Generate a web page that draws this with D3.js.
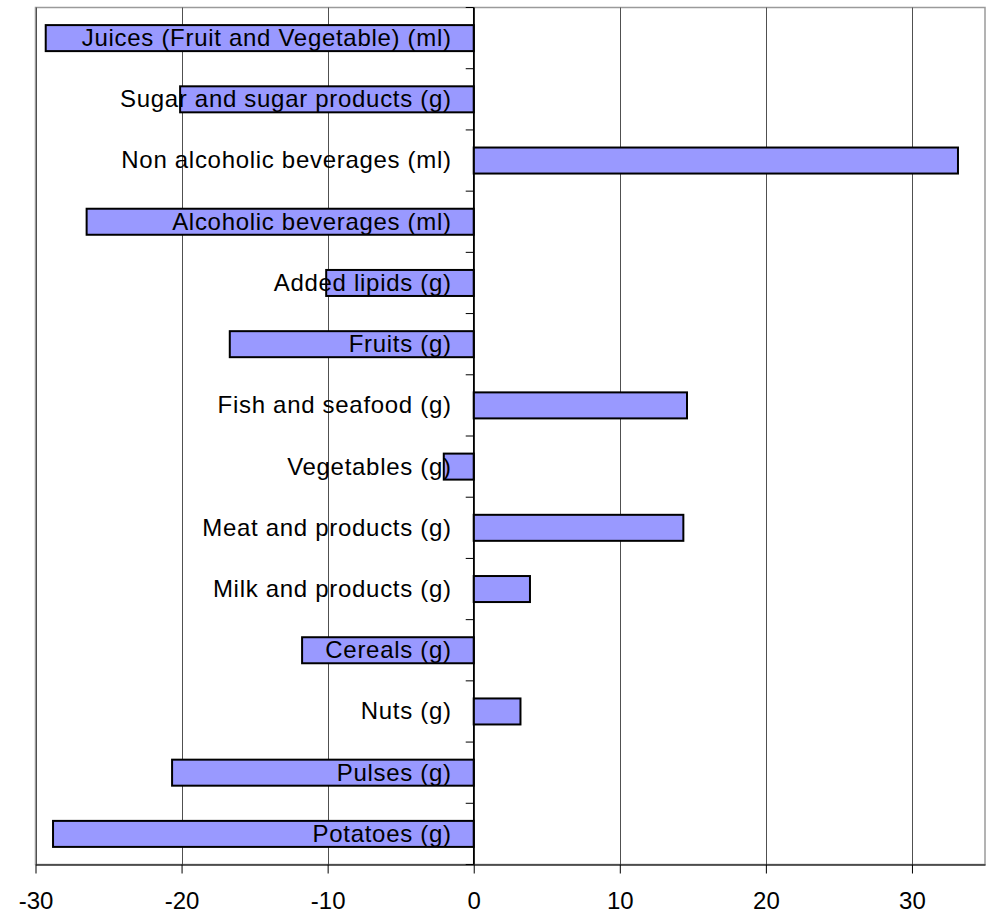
<!DOCTYPE html>
<html>
<head>
<meta charset="utf-8">
<script src="https://cdn.jsdelivr.net/npm/d3@7"></script>
<style>
  html, body { margin: 0; padding: 0; background: #fff; }
  svg { display: block; }
  text { font-family: "Liberation Sans", Arial, sans-serif; }
</style>
</head>
<body>
<svg id="chart" width="990" height="920"></svg>
<script>
const categories = [
  "Juices (Fruit and Vegetable) (ml)",
  "Sugar and sugar products (g)",
  "Non alcoholic beverages (ml)",
  "Alcoholic beverages (ml)",
  "Added lipids (g)",
  "Fruits (g)",
  "Fish and seafood (g)",
  "Vegetables (g)",
  "Meat and products (g)",
  "Milk and products (g)",
  "Cereals (g)",
  "Nuts (g)",
  "Pulses (g)",
  "Potatoes (g)"
];
const values = [-29.3, -20.1, 33.15, -26.5, -10.1, -16.7, 14.6, -2.05, 14.35, 3.85, -11.75, 3.2, -20.65, -28.8];
const xTicks = [-30, -20, -10, 0, 10, 20, 30];
const xTickLabels = ["-30", "-20", "-10", "0", "10", "20", "30"];
const xDomain = [-30, 35];

const svg = d3.select("#chart");
const m = { left: 35.5, right: 985, top: 7.5, bottom: 864.5 };

const x = d3.scaleLinear().domain(xDomain).range([m.left, m.right]);
const y = d3.scaleBand().domain(categories).range([m.top, m.bottom])
  .paddingInner(0.575).paddingOuter(0.2875);

// plot border
svg.append("rect")
  .attr("x", m.left).attr("y", m.top)
  .attr("width", m.right - m.left).attr("height", m.bottom - m.top)
  .attr("fill", "none").attr("stroke", "#9a9a9a").attr("stroke-width", 1.5);

// gridlines
svg.append("g").selectAll("line").data(xTicks).join("line")
  .attr("x1", d => Math.round(x(d)) + 0.5).attr("x2", d => Math.round(x(d)) + 0.5)
  .attr("y1", m.top).attr("y2", m.bottom)
  .attr("stroke", "#505050").attr("stroke-width", 1);

// bottom axis
const xAxis = d3.axisBottom(x).tickValues(xTicks)
  .tickFormat((d, i) => xTickLabels[i])
  .tickSize(9).tickPadding(18).tickSizeOuter(0);
const gx = svg.append("g").attr("transform", `translate(0,${m.bottom})`).call(xAxis);
gx.select(".domain").attr("stroke", "#333").attr("stroke-width", 1.5);
gx.selectAll(".tick line").attr("stroke", "#000");
gx.selectAll(".tick text").attr("font-size", 24).attr("fill", "#000")
  .attr("font-family", "'Liberation Sans', Arial, sans-serif");

// bars
svg.append("g").selectAll("rect").data(categories).join("rect")
  .attr("x", (d, i) => x(Math.min(0, values[i])))
  .attr("y", d => y(d))
  .attr("width", (d, i) => Math.abs(x(values[i]) - x(0)))
  .attr("height", y.bandwidth())
  .attr("fill", "#9999ff").attr("stroke", "#000").attr("stroke-width", 2);

// zero axis with ticks between categories
const boundaries = d3.range(categories.length + 1).map(i => m.top + i * y.step());
svg.append("line")
  .attr("x1", x(0)).attr("x2", x(0)).attr("y1", m.top).attr("y2", m.bottom)
  .attr("stroke", "#000").attr("stroke-width", 1.5);
svg.append("g").selectAll("line").data(boundaries).join("line")
  .attr("x1", x(0) - 8).attr("x2", x(0))
  .attr("y1", d => d).attr("y2", d => d)
  .attr("stroke", "#000").attr("stroke-width", 1);

// category labels
svg.append("g").selectAll("text").data(categories).join("text")
  .attr("x", x(0) - 22)
  .attr("y", d => y(d) + y.bandwidth() / 2)
  .attr("dy", "0.33em")
  .attr("text-anchor", "end")
  .attr("font-size", 24)
  .attr("letter-spacing", "0.7px")
  .attr("fill", "#000")
  .text(d => d);
</script>
</body>
</html>
